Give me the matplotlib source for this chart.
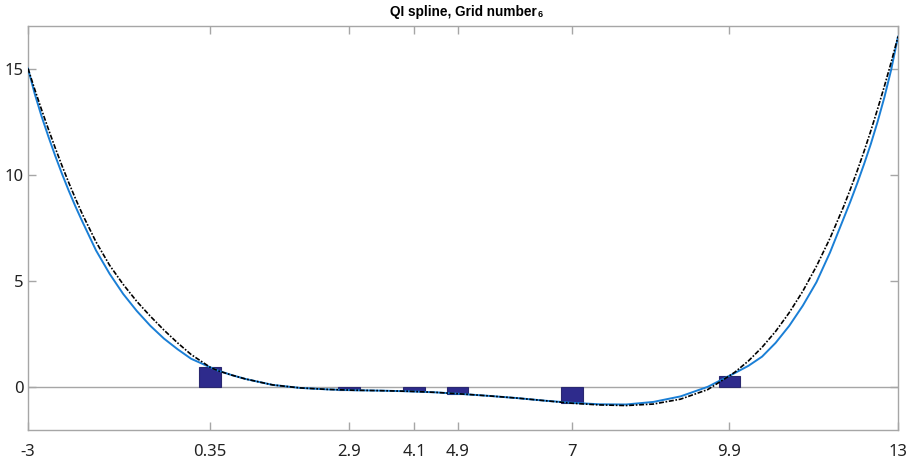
import matplotlib
matplotlib.use("Agg")
import matplotlib.pyplot as plt

# ---- data ----
grid_x = [0.35, 2.9, 4.1, 4.9, 7, 9.9]
grid_vals = [0.95, -0.12, -0.18, -0.30, -0.75, 0.53]

x_ticks = [-3, 0.35, 2.9, 4.1, 4.9, 7, 9.9, 13]
x_tick_labels = ["-3", "0.35", "2.9", "4.1", "4.9", "7", "9.9", "13"]
y_ticks = [0, 5, 10, 15]
y_tick_labels = ["0", "5", "10", "15"]

curve_x = [-3, -2.875, -2.75, -2.625, -2.5, -2.375, -2.25, -2.125, -2,
           -1.75, -1.5, -1.25, -1, -0.75, -0.5, -0.25, 0,
           0.35, 0.5, 0.75, 1, 1.5, 2, 2.5, 3, 3.5, 4, 4.5, 5, 5.5, 6, 6.5, 7, 7.5,
           8, 8.5, 9, 9.5, 9.9, 10, 10.25, 10.5, 10.75, 11, 11.25, 11.5, 11.75,
           12, 12.125, 12.25, 12.375, 12.5, 12.625, 12.75, 12.875, 13]

true_y = [15.0, 14.01, 13.06, 12.15, 11.27, 10.43, 9.63, 8.87, 8.15,
          6.85, 5.75, 4.85, 4.05, 3.35, 2.70, 2.10, 1.55,
          0.95, 0.78, 0.58, 0.40, 0.12, -0.02, -0.09, -0.13, -0.15, -0.18, -0.23, -0.31, -0.40,
          -0.50, -0.62, -0.74, -0.82, -0.85, -0.78, -0.55, -0.10, 0.55, 0.72, 1.25, 1.89, 2.64,
          3.52, 4.53, 5.70, 7.02,
          8.51, 9.33, 10.19, 11.10, 12.07, 13.10, 14.17, 15.30, 16.5]

spline_y = [15.0, 13.8, 12.75, 11.8, 10.9, 10.05, 9.25, 8.5, 7.8,
            6.45, 5.35, 4.4, 3.6, 2.9, 2.3, 1.8, 1.35,
            0.95, 0.79, 0.58, 0.40, 0.12, -0.02, -0.09, -0.13, -0.15, -0.18, -0.23, -0.31, -0.40,
            -0.50, -0.62, -0.72, -0.79, -0.80, -0.68, -0.42, 0.03, 0.55, 0.68, 1.02, 1.45, 2.10,
            2.90, 3.85, 4.95, 6.35,
            7.95, 8.75, 9.60, 10.50, 11.45, 12.50, 13.65, 14.95, 16.5]

title_main = "QI spline, Grid number"
title_sub = "6"

# ---- styling ----
gray = "#a6a6a6"
fig = plt.figure(figsize=(9.14, 4.62), dpi=100)
ax = fig.add_axes([28 / 914, 32 / 462, 870 / 914, 404 / 462])

ax.axhline(0, color=gray, lw=1.0, zorder=1)
ax.bar(grid_x, grid_vals, width=0.4, color="#2e2b8c", edgecolor="#2a2870",
       linewidth=0.8, zorder=2)
ax.plot(curve_x, spline_y, color="#1a7fd6", lw=1.4, zorder=3)
ax.plot(curve_x, true_y, color="black", lw=1.2, dashes=(3, 1, 1, 1), zorder=4)

ax.set_xlim(-3, 13)
ax.set_ylim(-2, 17)
ax.set_xticks(x_ticks)
ax.set_xticklabels(x_tick_labels)
ax.set_yticks(y_ticks)
ax.set_yticklabels(y_tick_labels)

for s in ax.spines.values():
    s.set_color(gray)
    s.set_linewidth(1.0)

ax.tick_params(axis="both", direction="in", length=6, width=1.0, color=gray,
               labelsize=12, labelcolor="#222222", top=True, right=True)
ax.tick_params(axis="x", pad=10)
ax.tick_params(axis="y", pad=3)
for lab in ax.get_xticklabels() + ax.get_yticklabels():
    lab.set_family("Noto Sans")

t1 = fig.text(390 / 914, 0.974, title_main, ha="left", va="center", fontsize=9.8,
              fontweight="bold", family="Liberation Sans")
fig.canvas.draw()
bb = t1.get_window_extent(renderer=fig.canvas.get_renderer())
fig.text((bb.x1 + 1) / 914, 0.969, title_sub, ha="left", va="center", fontsize=6.5,
         fontweight="bold", family="Liberation Sans")

fig.savefig("out.png", dpi=100)
